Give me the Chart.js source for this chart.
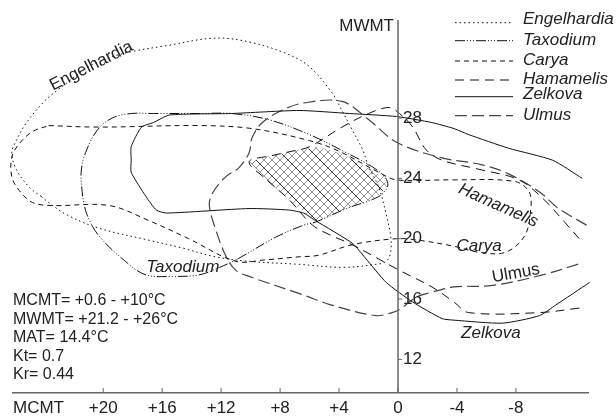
<!DOCTYPE html>
<html>
<head>
<meta charset="utf-8">
<script src="https://cdn.jsdelivr.net/npm/chart.js@4.4.1/dist/chart.umd.min.js"></script>
<style>
  html, body { margin: 0; padding: 0; background: #fff; }
</style>
</head>
<body>
<canvas id="chart" width="616" height="416"></canvas>
<script>
// axes
const mcmtTicks = [20, 16, 12, 8, 4, 0, -4, -8];
const mwmtTicks = [12, 16, 20, 24, 28];

// climatic envelopes, [MCMT, MWMT]
const engelhardia = [[24.2,22.8],[25.0,23.4],[25.9,24.6],[26.2,25.7],[25.9,26.5],[25.2,27.7],[23.9,29.2],[22.5,30.3],[21.0,31.4],[19.6,32.0],[18.1,32.4],[15.7,32.8],[12.4,33.3],[9.9,33.0],[7.4,32.2],[6.0,31.4],[4.5,29.7],[3.8,28.5],[3.1,27.2],[2.4,25.9],[2.0,24.8],[1.3,23.4],[0.8,21.6],[0.5,20.2],[0.5,19.1],[0.8,18.5],[1.5,18.3],[3.8,18.1],[6.7,18.3],[10.1,18.5],[12.4,18.8],[14.7,19.4],[16.9,19.9],[20.3,20.7],[22.5,21.6],[23.7,22.4],[24.2,22.8]];
const taxodium = [[21.4,22.8],[21.5,24.4],[21.2,25.7],[20.4,27.2],[19.4,28.0],[18.1,28.3],[16.6,28.3],[13.5,28.3],[11.3,28.3],[8.8,27.9],[6.0,26.9],[3.7,25.8],[1.8,24.8],[0.9,24.1],[0.7,23.5],[1.3,22.8],[3.5,22.0],[5.6,21.1],[6.4,20.9],[8.3,20.1],[10.8,18.7],[12.1,18.1],[13.5,17.6],[15.3,17.5],[17.1,17.6],[18.5,18.5],[20.3,20.2],[21.1,21.6],[21.4,22.8]];
const carya = [[23.7,27.5],[20.3,27.4],[13.5,27.5],[9.9,27.3],[6.0,26.5],[4.0,25.8],[1.3,24.4],[0.1,23.9],[-3.5,23.9],[-7.9,23.8],[-8.9,23.1],[-9.0,21.9],[-8.6,20.2],[-7.3,19.1],[-5.5,19.1],[-3.8,19.5],[-1.4,19.9],[0.1,20.0],[3.1,19.6],[5.4,18.9],[6.7,18.8],[9.0,18.6],[11.0,18.5],[14.2,20.0],[16.9,21.2],[19.6,22.2],[23.5,22.2],[24.8,22.4],[25.7,23.2],[26.2,24.1],[26.2,25.4],[25.7,26.3],[24.8,27.1],[23.7,27.5]];
const hamamelis = [[-12.3,20.0],[-11.3,21.1],[-9.9,22.6],[-8.2,23.9],[-5.5,24.6],[-3.0,25.2],[-1.9,25.9],[-1.0,27.4],[-0.1,28.3],[0.6,28.7],[2.0,28.3],[3.8,27.4],[6.0,26.1],[7.2,25.8],[8.6,25.5],[10.1,25.1],[8.9,23.9],[7.4,22.6],[5.8,20.9],[4.5,20.2],[3.1,19.6],[-0.1,17.9],[-2.3,16.8],[-3.8,15.8],[-4.8,15.1],[-9.6,15.1],[-12.3,15.4]];
const zelkova = [[-12.5,24.0],[-10.5,25.2],[-7.5,26.0],[-4.8,26.9],[-3.8,27.3],[-2.3,27.7],[0.1,28.1],[3.3,28.3],[6.7,28.5],[11.3,28.3],[15.5,28.2],[16.6,27.7],[17.4,27.4],[18.1,26.1],[18.1,25.2],[18.1,24.4],[17.1,22.8],[16.4,21.9],[15.7,21.7],[10.1,22.0],[7.4,21.9],[6.4,21.7],[5.6,21.2],[3.1,19.7],[2.2,18.7],[0.8,17.1],[-1.0,15.8],[-3.0,14.7],[-3.8,14.6],[-7.1,14.4],[-9.6,14.9],[-10.7,15.6],[-13.0,17.1]];
const ulmus = [[-12.8,20.9],[-10.9,22.0],[-9.6,23.1],[-7.5,24.3],[-5.7,24.9],[-2.8,25.4],[0.1,26.4],[2.0,27.9],[3.8,29.1],[6.4,29.0],[7.9,28.5],[9.2,27.7],[9.9,26.7],[10.1,25.7],[10.8,24.7],[11.7,24.1],[12.6,23.0],[12.8,22.2],[12.4,20.7],[11.7,18.9],[11.0,17.9],[10.1,17.5],[6.5,16.3],[4.5,15.6],[1.5,14.9],[0.4,15.1],[-0.1,15.3],[-1.2,16.1],[-2.1,16.4],[-3.8,16.8],[-6.4,16.9],[-9.8,17.6],[-12.5,18.4]];
// coexistence area
const coexistence = [[10.1,25.1],[8.6,25.5],[7.2,25.8],[5.4,26.1],[3.7,25.6],[2.1,24.7],[0.9,24.1],[0.7,23.5],[1.3,22.8],[3.5,22.0],[5.6,21.1],[7.4,22.6],[8.9,23.9],[10.1,25.1]];

const summary = ['MCMT= +0.6 - +10°C', 'MWMT= +21.2 - +26°C', 'MAT= 14.4°C', 'Kt= 0.7', 'Kr= 0.44'];

// curve names written on the plot: [text, MCMT, MWMT, angle, italic]
const curveLabels = [
  ['Engelhardia', 20.8, 31.45, -27, false],
  ['Taxodium', 14.6, 18.1, 0, true],
  ['Hamamelis', -6.8, 22.2, 24, true],
  ['Carya', -5.5, 19.5, 0, true],
  ['Ulmus', -8.0, 17.7, -10, false],
  ['Zelkova', -6.3, 13.75, 0, true]
];

const FONT = '"Liberation Sans", Arial, sans-serif';
Chart.defaults.font.family = FONT;

function makeHatch() {
  const c = document.createElement('canvas');
  c.width = 32; c.height = 32;
  const g = c.getContext('2d');
  g.strokeStyle = '#999';
  g.lineWidth = 1;
  for (let k = -32; k <= 64; k += 8) {
    g.beginPath(); g.moveTo(k, 0); g.lineTo(k + 32, 32); g.stroke();
    g.beginPath(); g.moveTo(k, 32); g.lineTo(k + 32, 0); g.stroke();
  }
  g.strokeStyle = '#333';
  g.lineWidth = 1;
  for (let k = -32; k <= 32; k += 32) {
    g.beginPath(); g.moveTo(k, 0); g.lineTo(k + 32, 32); g.stroke();
  }
  return g.createPattern(c, 'repeat');
}

const toXY = pts => pts.map(p => ({x: p[0], y: p[1]}));

function envelope(label, pts, dash, extra) {
  return Object.assign({
    label: label,
    data: toXY(pts),
    showLine: true,
    borderColor: '#111',
    borderWidth: 1,
    borderDash: dash,
    pointRadius: 0,
    fill: false,
    tension: 0.35,
    clip: false
  }, extra || {});
}

const datasets = [
  envelope('Engelhardia', engelhardia, [1.5, 3]),
  envelope('Taxodium', taxodium, [10, 2, 1, 2, 1, 2, 1, 2]),
  envelope('Carya', carya, [5, 4]),
  envelope('Hamamelis', hamamelis, [9, 6]),
  envelope('Zelkova', zelkova, [], {tension: 0.2}),
  envelope('Ulmus', ulmus, [12, 5], {borderColor: '#444', borderWidth: 1.2}),
  {
    label: 'coexistence',
    data: toXY(coexistence),
    showLine: true,
    borderWidth: 0,
    pointRadius: 0,
    tension: 0,
    fill: 'shape',
    backgroundColor: makeHatch()
  }
];

// legend rows: line y, text baseline
const legendRows = [[22.7, 24], [40.7, 45], [61, 65], [80, 84], [96.7, 99], [115.7, 120]];

const decorations = {
  id: 'decorations',
  afterDatasetsDraw(chart) {
    const {ctx, chartArea: a, scales: {x, y}} = chart;
    const x0 = x.getPixelForValue(0);
    ctx.save();

    // MWMT axis sits on MCMT = 0
    ctx.strokeStyle = '#666';
    ctx.lineWidth = 1.5;
    ctx.beginPath();
    ctx.moveTo(x0, a.top);
    ctx.lineTo(x0, a.bottom);
    ctx.stroke();

    ctx.lineWidth = 1;
    ctx.fillStyle = '#222';
    ctx.font = '17px ' + FONT;
    ctx.textAlign = 'left';
    ctx.textBaseline = 'middle';
    mwmtTicks.forEach(v => {
      const py = y.getPixelForValue(v);
      ctx.beginPath();
      ctx.moveTo(x0, py);
      ctx.lineTo(x0 + 4, py);
      ctx.stroke();
      ctx.fillText(String(v), x0 + 5, py);
    });
    mcmtTicks.forEach(v => {
      const px = x.getPixelForValue(v);
      ctx.beginPath();
      ctx.moveTo(px, a.bottom);
      ctx.lineTo(px, a.bottom - 5);
      ctx.stroke();
    });
    ctx.textAlign = 'right';
    ctx.fillText('MWMT', x0 - 4, a.top + 6);
    ctx.textAlign = 'left';
    ctx.textBaseline = 'alphabetic';
    ctx.fillText('MCMT', a.left, a.bottom + 20);

    // summary block
    ctx.font = '16px ' + FONT;
    summary.forEach((t, i) => ctx.fillText(t, a.left, 305 + i * 18.5));

    // names on curves
    curveLabels.forEach(([t, vx, vy, ang, it]) => {
      ctx.save();
      ctx.translate(x.getPixelForValue(vx), y.getPixelForValue(vy));
      ctx.rotate(ang * Math.PI / 180);
      ctx.font = (it ? 'italic ' : '') + '17px ' + FONT;
      ctx.textAlign = 'center';
      ctx.textBaseline = 'middle';
      ctx.fillText(t, 0, 0);
      ctx.restore();
    });

    // legend
    chart.data.datasets.slice(0, 6).forEach((ds, i) => {
      const [ly, ty] = legendRows[i];
      ctx.strokeStyle = ds.borderColor;
      ctx.lineWidth = ds.borderWidth;
      ctx.setLineDash(ds.borderDash);
      ctx.beginPath();
      ctx.moveTo(455, ly);
      ctx.lineTo(513, ly);
      ctx.stroke();
      ctx.setLineDash([]);
      ctx.font = 'italic 17px ' + FONT;
      ctx.textAlign = 'left';
      ctx.textBaseline = 'alphabetic';
      ctx.fillText(ds.label, 523, ty);
    });
    ctx.restore();
  }
};

new Chart(document.getElementById('chart'), {
  type: 'scatter',
  data: { datasets: datasets },
  options: {
    responsive: false,
    animation: false,
    devicePixelRatio: 1,
    layout: { padding: { left: 13, right: 28, top: 20, bottom: 0 } },
    plugins: { legend: { display: false }, tooltip: { enabled: false } },
    scales: {
      x: {
        type: 'linear',
        reverse: true,
        min: -12.89,
        max: 26.12,
        afterBuildTicks: s => { s.ticks = mcmtTicks.map(v => ({value: v})); },
        afterFit: s => { s.height = 23; },
        grid: { display: false, drawTicks: false },
        border: { display: true, color: '#666', width: 1.5 },
        ticks: {
          padding: 5,
          color: '#222',
          autoSkip: false,
          maxRotation: 0,
          font: { size: 17 },
          callback: v => (v > 0 ? '+' + v : String(v))
        }
      },
      y: {
        type: 'linear',
        display: false,
        min: 9.77,
        max: 34.5
      }
    }
  },
  plugins: [decorations]
});
</script>
</body>
</html>
